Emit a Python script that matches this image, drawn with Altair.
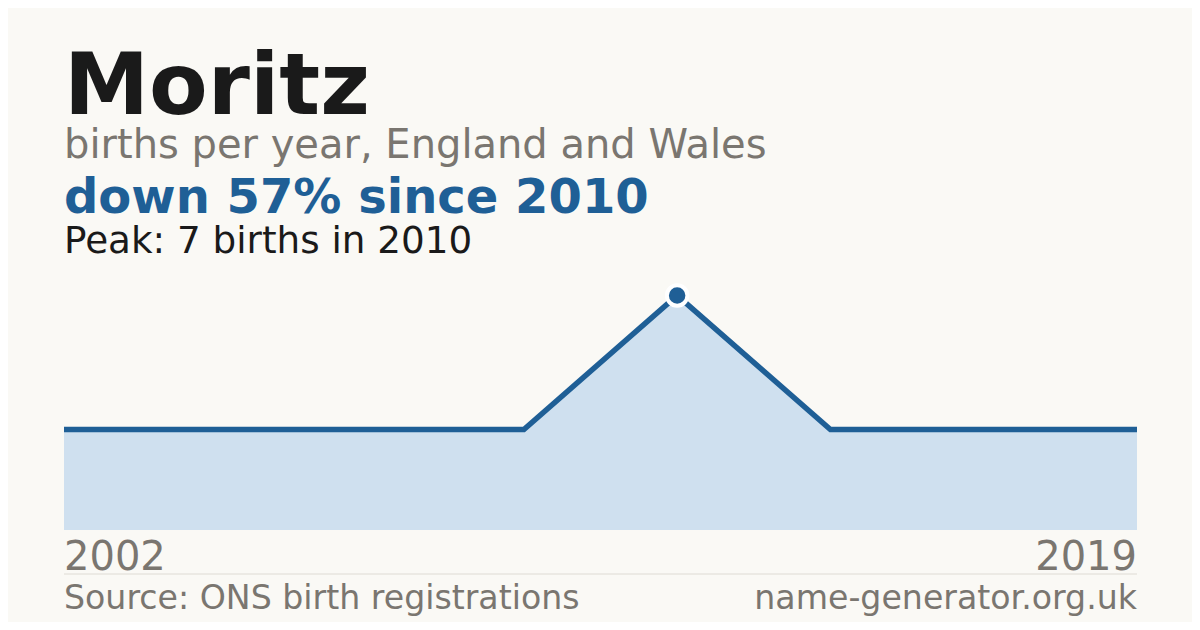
import altair as alt
import pandas as pd

# data
point_index = [0, 1, 2, 3, 4, 5, 6, 7]
births = [3, 3, 3, 3, 7, 3, 3, 3]
first_year = "2002"
last_year = "2019"
peak_index = 4
peak_births = 7

title = "Moritz"
subtitle = "births per year, England and Wales"
headline = "down 57% since 2010"
peak_text = "Peak: 7 births in 2010"
source = "Source: ONS birth registrations"
site = "name-generator.org.uk"

BLUE = "#1f5f96"
AREA = "#cfe0ef"
GRAY = "#7a7670"
DARK = "#1a1a1a"
BG = "#faf9f5"
FONT = "DejaVu Sans"

W, H = 1073, 260

df = pd.DataFrame({"i": point_index, "births": births})
peak_df = pd.DataFrame({"i": [peak_index], "births": [peak_births]})

x = alt.X("i:Q", scale=alt.Scale(domain=[0, 7], nice=False, zero=False), axis=None)
y = alt.Y("births:Q", scale=alt.Scale(domain=[0, 7.76], nice=False), axis=None)

base = alt.Chart(df)
area = base.mark_area(color=AREA, opacity=1).encode(x=x, y=y)
line = base.mark_line(color=BLUE, strokeWidth=5.5, strokeCap="butt", strokeJoin="miter").encode(x=x, y=y)
peak = alt.Chart(peak_df).mark_circle(
    size=420, color=BLUE, fill=BLUE, stroke="white", strokeWidth=4, opacity=1, fillOpacity=1, strokeOpacity=1
).encode(x=x, y=y)

one = pd.DataFrame({"a": [0]})


def label(text, ypos, size, color, weight="normal", xpos=0, align="left"):
    return alt.Chart(one).mark_text(
        font=FONT, fontSize=size, fontWeight=weight, color=color,
        align=align, baseline="alphabetic"
    ).encode(x=alt.value(xpos), y=alt.value(ypos), text=alt.value(text))


texts = [
    label(title, -156, 85.5, DARK, "bold"),
    label(subtitle, -112, 40, GRAY),
    label(headline, -57, 48, BLUE, "bold"),
    label(peak_text, -17, 37.3, DARK),
    label(first_year, 300, 40, GRAY),
    label(last_year, 300, 40, GRAY, xpos=W, align="right"),
    label(source, 339, 33.2, GRAY),
    label(site, 339, 33.2, GRAY, xpos=W, align="right"),
]

rule = alt.Chart(one).mark_rule(color="#dedbd4", strokeWidth=1).encode(
    x=alt.value(0), x2=alt.value(W), y=alt.value(304)
)

chart = alt.layer(area, line, peak, rule, *texts).properties(
    width=W,
    height=H,
    background=BG,
    padding={"left": 56, "top": 262, "right": 55, "bottom": 92},
    autosize=alt.AutoSizeParams(type="none"),
).configure_view(strokeWidth=0)

chart.save("out.html", embed_options={"renderer": "svg", "actions": False})
